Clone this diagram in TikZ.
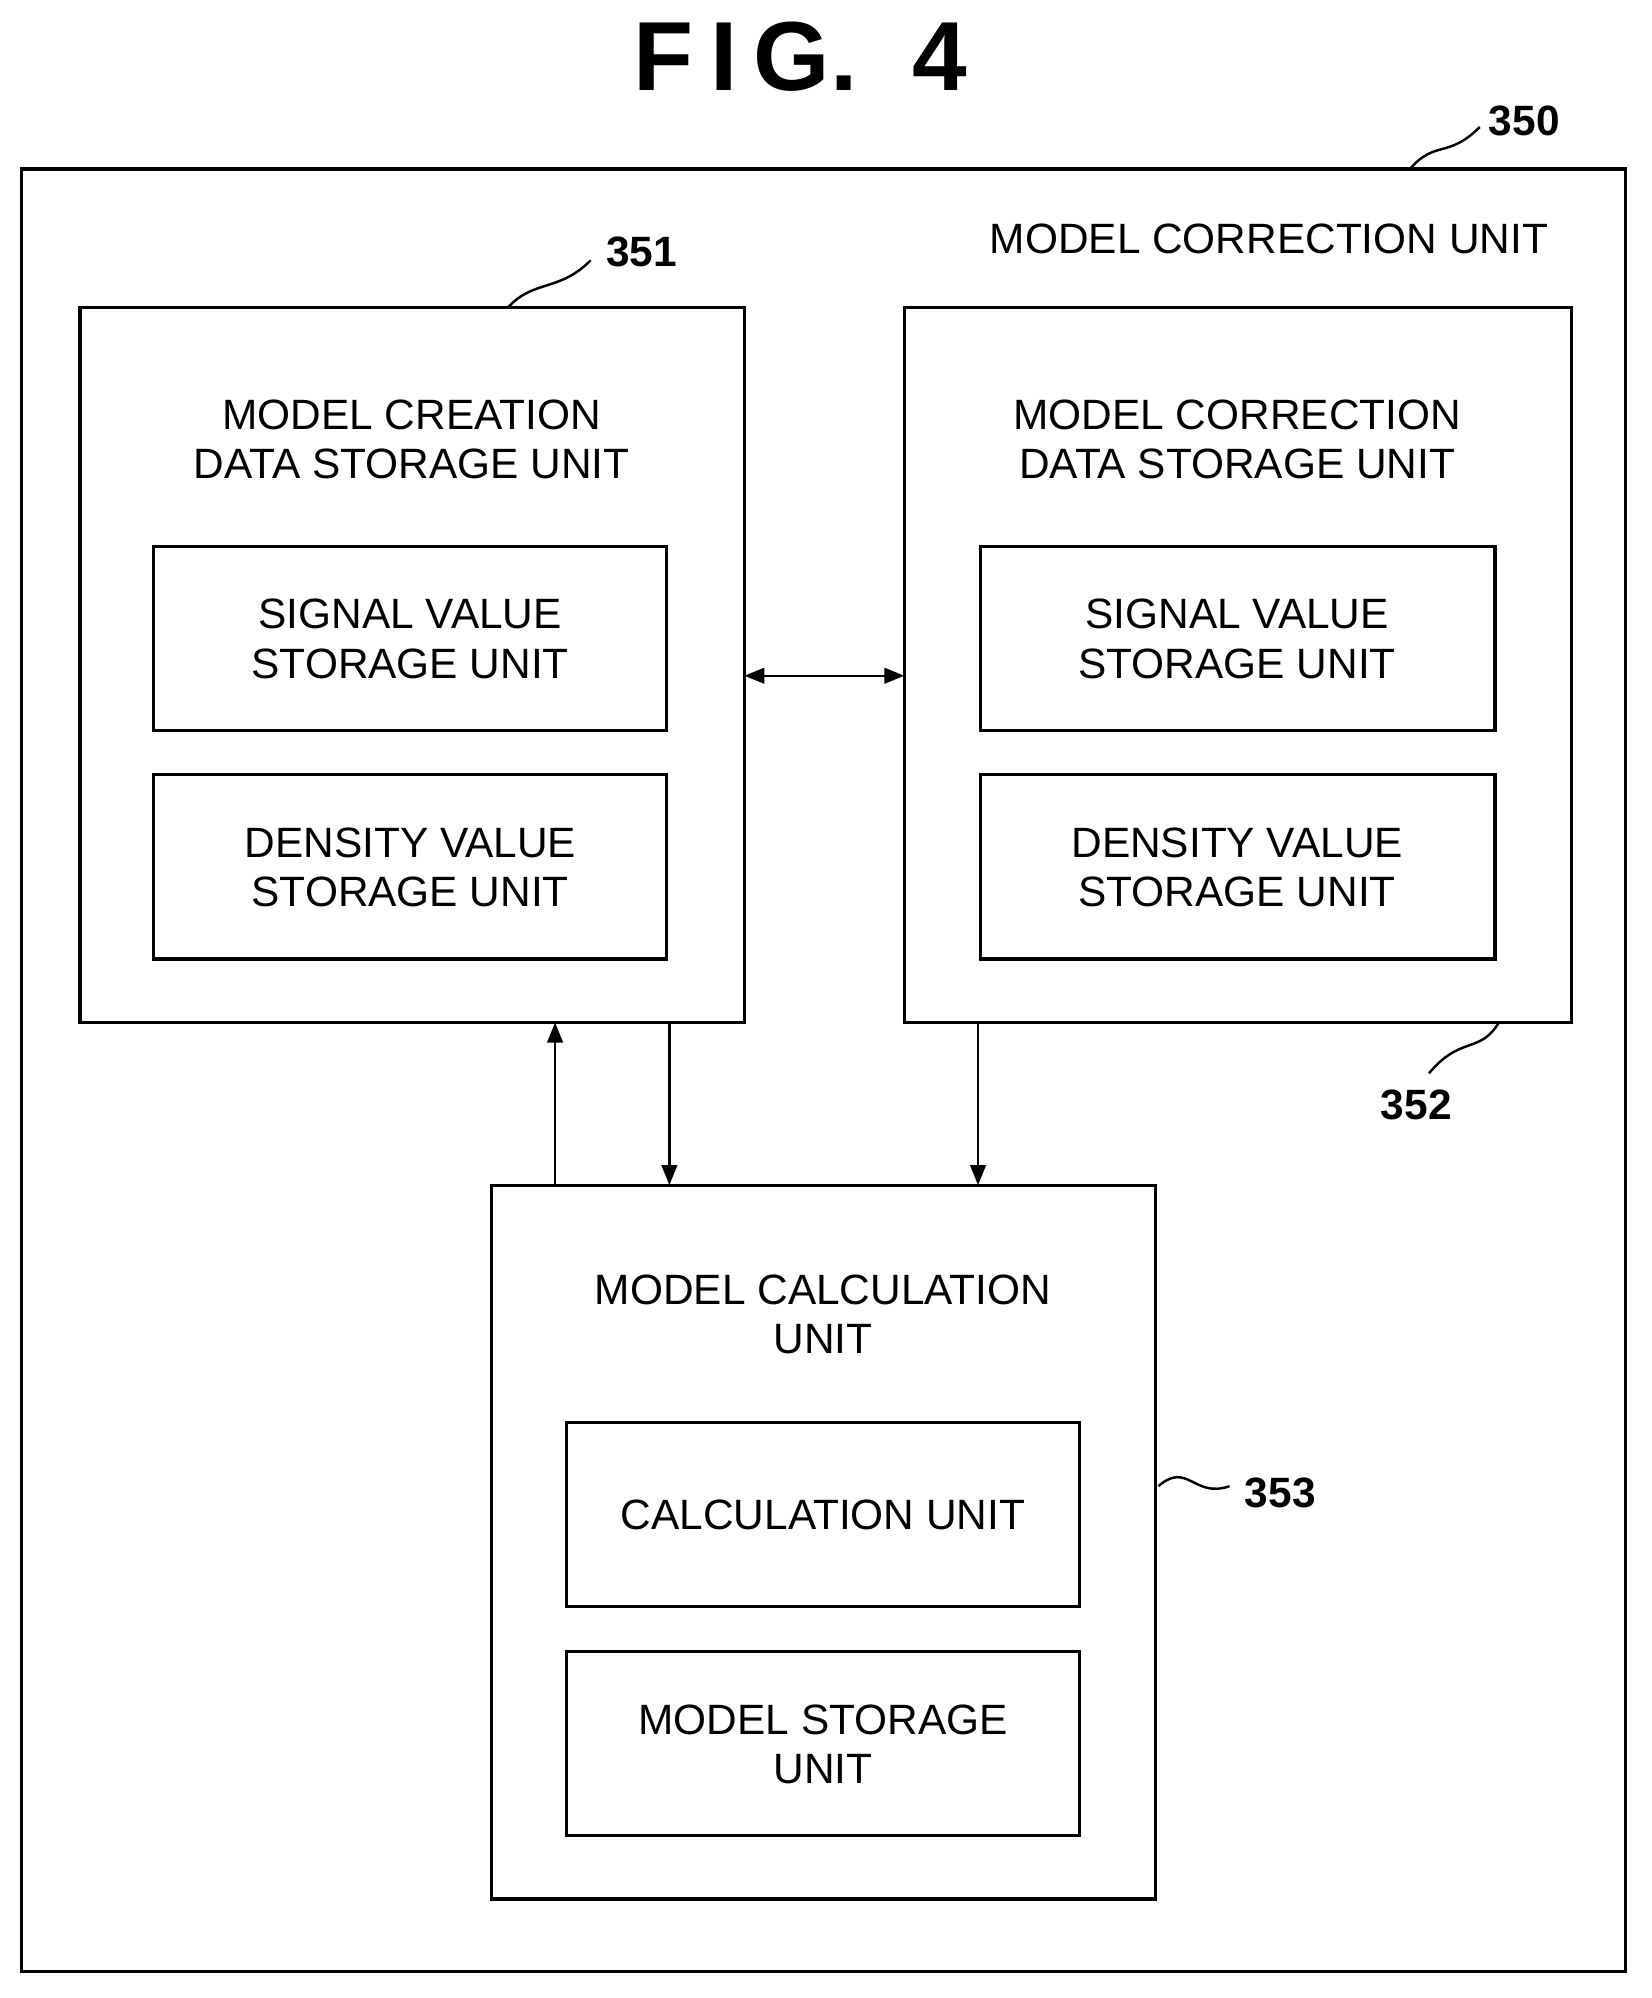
\documentclass[tikz,border=0pt]{standalone}
\usepackage{fontspec}
\setmainfont{Liberation Sans}
\usetikzlibrary{arrows.meta}
\begin{document}
\begin{tikzpicture}[x=0.02cm,y=-0.02cm,
    box/.style={draw, line width=1.4pt},
    lbl/.style={font=\fontsize{19}{22}\selectfont, align=center},
    num/.style={font=\fontsize{19}{22}\selectfont\bfseries},
    link/.style={line width=1.1pt, -{Triangle[length=9pt,width=7pt]}},
    lead/.style={line width=1.1pt}]

    \useasboundingbox (0,0) rectangle (1300,1573);

    % Title
    \node[font=\fontsize{44}{50}\selectfont\bfseries] (title) at (630,45) {F\,I\,G.\ \ 4};

    % Outer unit
    \draw[box] (17,133) rectangle (1280,1552);
    \node[lbl, anchor=east] (mcu) at (1225,188) {MODEL CORRECTION UNIT};
    \node[num] (n350) at (1200,95) {350};
    \draw[lead] (1110,133) .. controls (1130,110) and (1140,125) .. (1165,100);

    % Model creation data storage unit
    \draw[box] (63,242) rectangle (586,805);
    \node[lbl] (mcd) at (324,346) {MODEL CREATION\\DATA STORAGE UNIT};
    \draw[box] (121,430) rectangle (525,575);
    \node[lbl] (sv1) at (323,503) {SIGNAL VALUE\\STORAGE UNIT};
    \draw[box] (121,610) rectangle (525,755);
    \node[lbl] (dv1) at (323,683) {DENSITY VALUE\\STORAGE UNIT};
    \node[num] (n351) at (505,198) {351};
    \draw[lead] (400,242) .. controls (420,220) and (440,230) .. (465,205);

    % Model correction data storage unit
    \draw[box] (712,242) rectangle (1237,805);
    \node[lbl] (mcr) at (974,346) {MODEL CORRECTION\\DATA STORAGE UNIT};
    \draw[box] (772,430) rectangle (1177,575);
    \node[lbl] (sv2) at (974,503) {SIGNAL VALUE\\STORAGE UNIT};
    \draw[box] (772,610) rectangle (1177,755);
    \node[lbl] (dv2) at (974,683) {DENSITY VALUE\\STORAGE UNIT};
    \node[num] (n352) at (1115,870) {352};
    \draw[lead] (1180,805) .. controls (1165,830) and (1150,815) .. (1125,845);

    % Model calculation unit
    \draw[box] (387,933) rectangle (910,1495);
    \node[lbl] (mca) at (648,1035) {MODEL CALCULATION\\UNIT};
    \draw[box] (446,1120) rectangle (850,1265);
    \node[lbl] (cal) at (648,1193) {CALCULATION UNIT};
    \draw[box] (446,1300) rectangle (850,1445);
    \node[lbl] (mst) at (648,1373) {MODEL STORAGE\\UNIT};
    \node[num] (n353) at (1008,1175) {353};
    \draw[lead] (912,1170) .. controls (935,1150) and (940,1180) .. (968,1170);

    % Connections
    \coordinate (a1) at (586,532);
    \coordinate (a2) at (712,532);
    \draw[link, {Triangle[length=9pt,width=7pt]}-{Triangle[length=9pt,width=7pt]}] (a1) -- (a2);
    \coordinate (u1) at (437,933);
    \coordinate (u2) at (437,805);
    \draw[link] (u1) -- (u2);
    \coordinate (d1) at (527,805);
    \coordinate (d2) at (527,933);
    \draw[link] (d1) -- (d2);
    \coordinate (e1) at (770,805);
    \coordinate (e2) at (770,933);
    \draw[link] (e1) -- (e2);
\end{tikzpicture}
\end{document}
